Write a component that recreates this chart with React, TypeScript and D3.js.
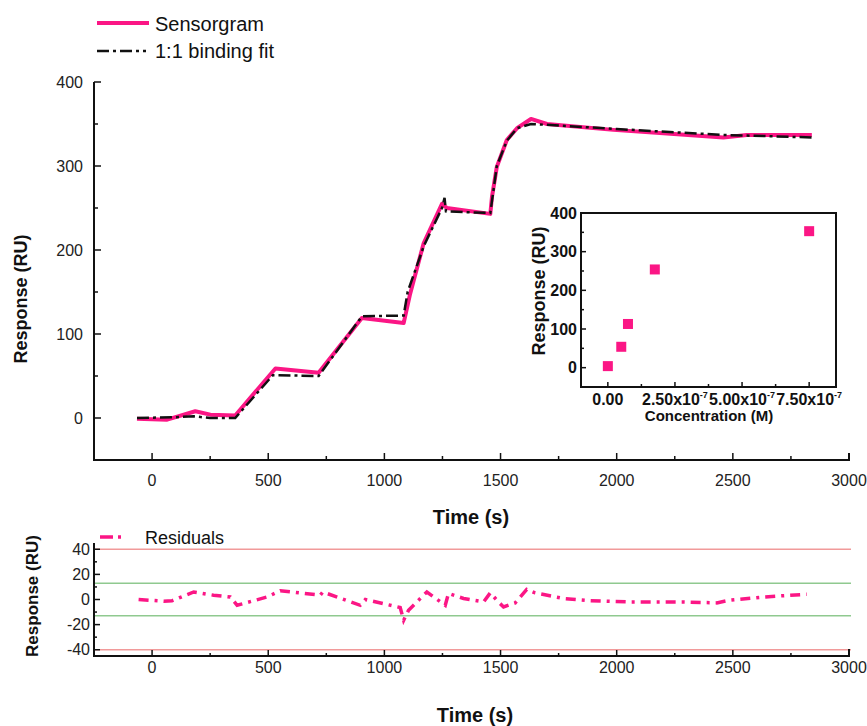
import React from 'react';
import * as d3 from 'd3';

// sensorgram (time s, response RU)
const sensorTime = [-65, 65, 186, 251, 358, 531, 717, 903, 1083, 1111, 1169, 1248, 1269, 1456, 1463, 1484, 1527, 1571, 1631, 1700, 1986, 2201, 2459, 2560, 2840];
const sensorResp = [-1, -2, 8, 4, 3, 59, 54, 119, 113, 148, 208, 255, 250, 243, 263, 299, 331, 345, 356, 350, 343, 339, 334, 337, 337];

// 1:1 binding fit
const fitTime = [-65, 100, 180, 250, 358, 520, 717, 903, 1083, 1100, 1170, 1248, 1259, 1265, 1456, 1484, 1527, 1571, 1631, 1700, 2000, 2459, 2840];
const fitResp = [0, 1, 2, 0, 0, 51, 50, 121, 122, 150, 205, 250, 262, 246, 244, 300, 330, 345, 350, 349, 344, 337, 334];

// residuals
const residTime = [-58, 50, 86, 179, 265, 337, 366, 495, 552, 724, 735, 896, 918, 1068, 1083, 1104, 1183, 1262, 1276, 1341, 1427, 1456, 1491, 1513, 1563, 1613, 1649, 1771, 1886, 2058, 2287, 2431, 2488, 2632, 2818];
const residVal = [0, -1.4, -1, 6, 3.4, 2, -4.6, 2, 7, 3.4, 6, -4.6, 0, -6.4, -16.5, -8.5, 6, -4.6, 4.8, 0.8, -1.9, 5.3, -2, -5.9, -2.7, 8, 5.3, 0.8, -1, -2, -2, -2.7, -0.5, 2, 4.2];

// inset: concentration vs response
const concentration = [0, 5e-8, 7.5e-8, 1.75e-7, 7.5e-7];
const concResponse = [4, 54, 113, 254, 353];

const timeTicks = [0, 500, 1000, 1500, 2000, 2500, 3000];
const respTicks = [0, 100, 200, 300, 400];
const residTicks = [-40, -20, 0, 20, 40];
const concTicks = [0, 2.5e-7, 5e-7, 7.5e-7];
const concTickLabels = ['0.00', '2.50x10', '5.00x10', '7.50x10'];
const insetRespTicks = [0, 100, 200, 300, 400];

const PINK = '#fb1685';
const FONT = '"Liberation Sans", Arial, sans-serif';

const App = () => {
  const x = d3.scaleLinear().domain([-250, 3000]).range([94, 849]);
  const y = d3.scaleLinear().domain([-50, 400]).range([460, 82]);
  const yr = d3.scaleLinear().domain([-45, 45]).range([656, 543]);
  const xi = d3.scaleLinear().domain([-1e-7, 8.5e-7]).range([581, 836]);
  const yi = d3.scaleLinear().domain([-50, 400]).range([387, 213]);

  const sensorLine = d3.line<number>().x((d, i) => x(sensorTime[i])).y((d) => y(d));
  const fitLine = d3.line<number>().x((d, i) => x(fitTime[i])).y((d) => y(d));
  const residLine = d3.line<number>().x((d, i) => x(residTime[i])).y((d) => yr(d));

  const minorTime = d3.range(250, 3000, 500);
  const minorResp = d3.range(50, 400, 100);
  const minorResid = [-30, -10, 10, 30];
  const minorConc = [1.25e-7, 3.75e-7, 6.25e-7];
  const minorInset = [50, 150, 250, 350];

  return (
    <svg width={867} height={726} style={{ position: 'absolute', left: 0, top: 0 }} fontFamily={FONT}>
      <rect width={867} height={726} fill="#fff" />

      {/* legend */}
      <line x1={97} x2={149} y1={23} y2={23} stroke={PINK} strokeWidth={4} />
      <text x={155} y={31} fontSize={20} fill="#111">Sensorgram</text>
      <line x1={97} x2={146} y1={51} y2={51} stroke="#111" strokeWidth={2.5} strokeDasharray="12,4,3,4" />
      <text x={155} y={58} fontSize={20} fill="#111">1:1 binding fit</text>

      {/* main axes */}
      <path d={`M${x(-250)},${y(400)}V${y(-50)}H${x(3000)}V${y(-50) - 7}`} fill="none" stroke="#111" strokeWidth={2} />
      {respTicks.map((t) => (
        <g key={'ry' + t}>
          <line x1={x(-250)} x2={x(-250) + 7} y1={y(t)} y2={y(t)} stroke="#111" strokeWidth={1.5} />
          <text x={83} y={y(t) + 5.5} fontSize={16} textAnchor="end" fill="#222">{t}</text>
        </g>
      ))}
      {minorResp.map((t) => (
        <line key={'rym' + t} x1={x(-250)} x2={x(-250) + 4} y1={y(t)} y2={y(t)} stroke="#111" strokeWidth={1.5} />
      ))}
      {timeTicks.map((t) => (
        <g key={'tx' + t}>
          <line x1={x(t)} x2={x(t)} y1={y(-50)} y2={y(-50) - 7} stroke="#111" strokeWidth={1.5} />
          <text x={x(t)} y={486} fontSize={16} textAnchor="middle" fill="#222">{t}</text>
        </g>
      ))}
      {minorTime.map((t) => (
        <line key={'txm' + t} x1={x(t)} x2={x(t)} y1={y(-50)} y2={y(-50) - 4} stroke="#111" strokeWidth={1.5} />
      ))}
      <text x={471} y={524} fontSize={20} fontWeight="bold" textAnchor="middle" fill="#111">Time (s)</text>
      <text transform="translate(27,299) rotate(-90)" fontSize={18} fontWeight="bold" textAnchor="middle" fill="#111">Response (RU)</text>

      {/* curves */}
      <path d={sensorLine(sensorResp) ?? ''} fill="none" stroke={PINK} strokeWidth={4} strokeLinejoin="round" />
      <path d={fitLine(fitResp) ?? ''} fill="none" stroke="#111" strokeWidth={2.5} strokeDasharray="12,4,3,4" />

      {/* inset */}
      <rect x={xi(-1e-7)} y={yi(400)} width={xi(8.5e-7) - xi(-1e-7)} height={yi(-50) - yi(400)} fill="#fff" stroke="#111" strokeWidth={2} />
      {insetRespTicks.map((t) => (
        <g key={'iy' + t}>
          <line x1={xi(-1e-7)} x2={xi(-1e-7) + 5} y1={yi(t)} y2={yi(t)} stroke="#111" strokeWidth={1.5} />
          <text x={577} y={yi(t) + 5.5} fontSize={16} fontWeight="bold" textAnchor="end" fill="#111">{t}</text>
        </g>
      ))}
      {minorInset.map((t) => (
        <line key={'iym' + t} x1={xi(-1e-7)} x2={xi(-1e-7) + 3} y1={yi(t)} y2={yi(t)} stroke="#111" strokeWidth={1.5} />
      ))}
      {concTicks.map((t, i) => (
        <g key={'ix' + t}>
          <line x1={xi(t)} x2={xi(t)} y1={yi(-50)} y2={yi(-50) - 5} stroke="#111" strokeWidth={1.5} />
          <text x={xi(t)} y={405} fontSize={16} fontWeight="bold" textAnchor="middle" fill="#111">
            {concTickLabels[i]}
            {i > 0 && <tspan dy={-7} fontSize={9}>-7</tspan>}
          </text>
        </g>
      ))}
      {minorConc.map((t) => (
        <line key={'ixm' + t} x1={xi(t)} x2={xi(t)} y1={yi(-50)} y2={yi(-50) - 3} stroke="#111" strokeWidth={1.5} />
      ))}
      <text x={709} y={421} fontSize={15} fontWeight="bold" textAnchor="middle" fill="#111">Concentration (M)</text>
      <text transform="translate(545,291) rotate(-90)" fontSize={18} fontWeight="bold" textAnchor="middle" fill="#111">Response (RU)</text>
      {concentration.map((c, i) => (
        <rect key={'pt' + i} x={xi(c) - 5} y={yi(concResponse[i]) - 5} width={10} height={10} fill={PINK} />
      ))}

      {/* residuals panel */}
      <text x={145} y={544} fontSize={18} fill="#111">Residuals</text>
      <line x1={100} x2={124} y1={537} y2={537} stroke={PINK} strokeWidth={3.5} strokeDasharray="13,5,3,5" />
      {[40, -40].map((v) => (
        <line key={'red' + v} x1={x(-250)} x2={851} y1={yr(v)} y2={yr(v)} stroke="#f19a9a" strokeWidth={1.5} />
      ))}
      {[13, -13].map((v) => (
        <line key={'grn' + v} x1={x(-250)} x2={851} y1={yr(v)} y2={yr(v)} stroke="#8fc98f" strokeWidth={1.5} />
      ))}
      <path d={`M${x(-250)},${yr(45)}V${yr(-45)}H${x(3000)}V${yr(-45) - 7}`} fill="none" stroke="#111" strokeWidth={2} />
      {residTicks.map((t) => (
        <g key={'ey' + t}>
          <line x1={x(-250)} x2={x(-250) + 6} y1={yr(t)} y2={yr(t)} stroke="#111" strokeWidth={1.5} />
          <text x={90} y={yr(t) + 5.5} fontSize={16} textAnchor="end" fill="#222">{t}</text>
        </g>
      ))}
      {minorResid.map((t) => (
        <line key={'eym' + t} x1={x(-250)} x2={x(-250) + 3} y1={yr(t)} y2={yr(t)} stroke="#111" strokeWidth={1.5} />
      ))}
      {timeTicks.map((t) => (
        <g key={'ex' + t}>
          <line x1={x(t)} x2={x(t)} y1={yr(-45)} y2={yr(-45) - 6} stroke="#111" strokeWidth={1.5} />
          <text x={x(t)} y={673} fontSize={16} textAnchor="middle" fill="#222">{t}</text>
        </g>
      ))}
      {minorTime.map((t) => (
        <line key={'exm' + t} x1={x(t)} x2={x(t)} y1={yr(-45)} y2={yr(-45) - 3} stroke="#111" strokeWidth={1.5} />
      ))}
      <path d={residLine(residVal) ?? ''} fill="none" stroke={PINK} strokeWidth={3.5} strokeDasharray="10,6,3,6" />
      <text x={475} y={722} fontSize={20} fontWeight="bold" textAnchor="middle" fill="#111">Time (s)</text>
      <text transform="translate(38,596) rotate(-90)" fontSize={17} fontWeight="bold" textAnchor="middle" fill="#111">Response (RU)</text>
    </svg>
  );
};

export default App;
